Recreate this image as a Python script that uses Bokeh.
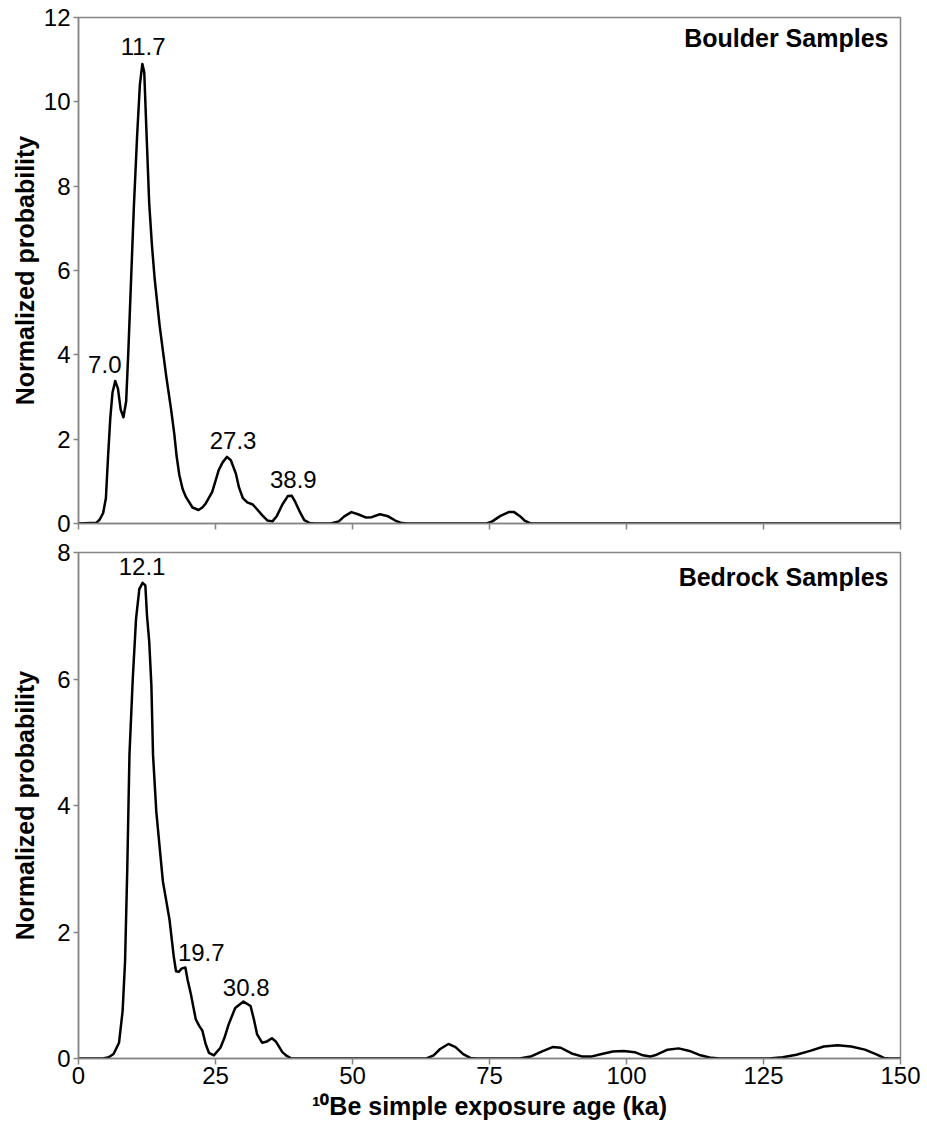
from bokeh.plotting import figure
from bokeh.layouts import column
from bokeh.models import FixedTicker, Range1d
from bokeh.embed import file_html
from bokeh.resources import INLINE
from bokeh.core.properties import value

# ---------------- data ----------------
x_ticks = [0, 25, 50, 75, 100, 125, 150]
boulder_y_ticks = [0, 2, 4, 6, 8, 10, 12]
bedrock_y_ticks = [0, 2, 4, 6, 8]

boulder_age = [0, 3.3, 3.9, 4.5, 5.0, 5.4, 5.8, 6.2, 6.7, 7.2, 7.7, 8.2, 8.7, 9.1, 9.6,
               10.1, 10.7, 11.2, 11.65, 12.0, 12.4, 12.9, 13.4, 13.9, 14.8, 15.5, 16.0,
               16.9, 17.5, 17.9, 18.4, 19.0, 19.6, 20.8, 21.9, 22.6, 23.2, 24.4, 25.6,
               26.3, 27.1, 27.8, 28.7, 29.3, 30.0, 30.8, 31.8, 32.5, 33.5, 34.5, 35.4,
               36.2, 37.2, 38.2, 38.9, 39.6, 40.3, 41.2, 42.2, 43.0, 46.0, 47.5, 48.5,
               49.8, 51.0, 52.5, 53.5, 55.0, 56.5, 57.8, 59.0, 60.0, 74.5, 75.5, 77.0,
               78.5, 79.5, 80.5, 81.5, 82.5, 150]
boulder_prob = [0, 0.02, 0.1, 0.25, 0.6, 1.6, 2.5, 3.1, 3.38, 3.2, 2.7, 2.52, 2.9, 4.1, 5.8,
                7.5, 9.2, 10.4, 10.9, 10.7, 9.3, 7.6, 6.6, 5.8, 4.7, 4.0, 3.5,
                2.7, 2.1, 1.6, 1.15, 0.82, 0.63, 0.38, 0.32, 0.38, 0.47, 0.75, 1.27,
                1.45, 1.58, 1.5, 1.19, 0.85, 0.6, 0.5, 0.45, 0.35, 0.2, 0.07, 0.05,
                0.18, 0.45, 0.65, 0.66, 0.5, 0.3, 0.08, 0.01, 0, 0, 0.05, 0.17,
                0.27, 0.22, 0.14, 0.15, 0.22, 0.17, 0.07, 0.01, 0, 0, 0.05, 0.18,
                0.27, 0.27, 0.18, 0.06, 0, 0]

bedrock_age = [0, 4.5, 5.5, 6.4, 7.4, 8.05, 8.5, 8.9, 9.3, 9.9, 10.5, 11.1, 11.7, 12.2,
               12.5, 12.9, 13.3, 13.6, 14.2, 15.4, 16.6, 17.4, 17.8, 18.3, 18.8, 19.5,
               19.9, 20.5, 21.4, 22.0, 22.6, 23.2, 23.8, 24.7, 25.9, 26.6, 27.4, 28.6,
               30.1, 31.4, 32.0, 32.6, 33.5, 34.4, 35.3, 36.0, 36.5, 37.2, 38.0, 38.9,
               40.0, 63.5, 64.8, 66.0, 67.5, 68.8, 70.2, 71.5, 72.5, 80.5, 82.5, 84.5,
               86.5, 88.0, 90.0, 92.0, 93.5, 95.5, 97.5, 99.5, 101.5, 103.0, 104.3,
               105.5, 107.5, 109.5, 111.5, 113.5, 115.5, 117.0, 126.0, 128.5, 131.0,
               133.5, 136.0, 138.5, 141.0, 143.5, 145.5, 147.0, 148.0, 150.0]
bedrock_prob = [0, 0, 0.02, 0.07, 0.25, 0.75, 1.54, 3.0, 4.8, 6.0, 6.95, 7.42, 7.52, 7.48,
                7.0, 6.6, 5.9, 4.8, 3.9, 2.8, 2.2, 1.6, 1.38, 1.37, 1.42, 1.44,
                1.25, 1.02, 0.62, 0.52, 0.44, 0.23, 0.09, 0.05, 0.17, 0.32, 0.54, 0.8,
                0.9, 0.83, 0.62, 0.38, 0.25, 0.27, 0.32, 0.27, 0.2, 0.1, 0.04, 0.0,
                0, 0, 0.05, 0.15, 0.23, 0.18, 0.07, 0.01, 0, 0, 0.03, 0.11,
                0.18, 0.17, 0.08, 0.03, 0.03, 0.07, 0.11, 0.12, 0.1, 0.05, 0.03,
                0.06, 0.14, 0.16, 0.12, 0.05, 0.01, 0, 0, 0.02, 0.06,
                0.12, 0.19, 0.21, 0.19, 0.14, 0.07, 0.01, 0, 0]

boulder_peak_text = ["7.0", "11.7", "27.3", "38.9"]
boulder_peak_x = [4.8, 11.8, 28.2, 39.2]
boulder_peak_y = [3.76, 11.31, 1.97, 1.05]

bedrock_peak_text = ["12.1", "19.7", "30.8"]
bedrock_peak_x = [11.6, 22.4, 30.6]
bedrock_peak_y = [7.78, 1.68, 1.13]

titles = ["Boulder Samples", "Bedrock Samples"]
title_x = [147.8, 147.8]
title_y = [11.52, 7.62]

y_label = "Normalized probability"
x_label = "\u00b9\u2070Be simple exposure age (ka)"

# ---------------- style ----------------
FONT = "Liberation Sans"
GREY = "#858585"
W = 927


def base(height, top, bottom, ymax, yticks):
    p = figure(width=W, height=height, output_backend="svg", toolbar_location=None,
               x_range=Range1d(0, 150), y_range=Range1d(0, ymax),
               min_border_left=78, min_border_right=27,
               min_border_top=top, min_border_bottom=bottom)
    p.grid.visible = False
    p.outline_line_color = GREY
    p.outline_line_width = 1.5
    p.background_fill_color = "white"
    p.border_fill_color = "white"
    p.xaxis.ticker = FixedTicker(ticks=x_ticks)
    p.yaxis.ticker = FixedTicker(ticks=yticks)
    for ax in (p.xaxis, p.yaxis):
        ax.axis_line_color = GREY
        ax.axis_line_width = 1.5
        ax.major_tick_line_color = GREY
        ax.major_tick_line_width = 1.5
        ax.minor_tick_line_color = None
        ax.major_tick_in = 0
        ax.major_label_text_font = FONT
        ax.major_label_text_font_size = "24px"
        ax.major_label_text_color = "black"
        ax.axis_label_text_font = FONT
        ax.axis_label_text_font_size = "25px"
        ax.axis_label_text_font_style = "bold"
        ax.axis_label_text_color = "black"
    p.xaxis.major_tick_out = 6
    p.yaxis.major_tick_out = 5
    p.xaxis.major_label_standoff = 2
    p.yaxis.major_label_standoff = 3
    p.yaxis.axis_label = y_label
    return p


# top panel (ticks on the bottom axis, but no tick labels)
p1 = base(537, 17, 14, 12, boulder_y_ticks)
p1.xaxis.major_label_text_font_size = "1px"
p1.xaxis.major_label_text_color = None
p1.xaxis.major_label_standoff = 0
p1.yaxis.axis_label_standoff = 2
p1.line(boulder_age, boulder_prob, line_color="black", line_width=2.5,
        line_join="round")
p1.text(x=boulder_peak_x, y=boulder_peak_y, text=boulder_peak_text,
        text_font=value(FONT), text_font_size="24px", text_color="black",
        text_align="center", text_baseline="alphabetic")
p1.text(x=title_x[:1], y=title_y[:1], text=titles[:1], text_font=value(FONT),
        text_font_size="25px", text_font_style="bold", text_color="black",
        text_align="right", text_baseline="alphabetic")

# bottom panel
p2 = base(593, 15, 72, 8, bedrock_y_ticks)
p2.yaxis.axis_label_standoff = 15
p2.xaxis.axis_label = x_label
p2.xaxis.axis_label_standoff = 5
p2.line(bedrock_age, bedrock_prob, line_color="black", line_width=2.5,
        line_join="round")
p2.text(x=bedrock_peak_x, y=bedrock_peak_y, text=bedrock_peak_text,
        text_font=value(FONT), text_font_size="24px", text_color="black",
        text_align="center", text_baseline="alphabetic")
p2.text(x=title_x[1:], y=title_y[1:], text=titles[1:], text_font=value(FONT),
        text_font_size="25px", text_font_style="bold", text_color="black",
        text_align="right", text_baseline="alphabetic")

layout = column(p1, p2, spacing=0)
open("out.html", "w").write(file_html(layout, INLINE))
